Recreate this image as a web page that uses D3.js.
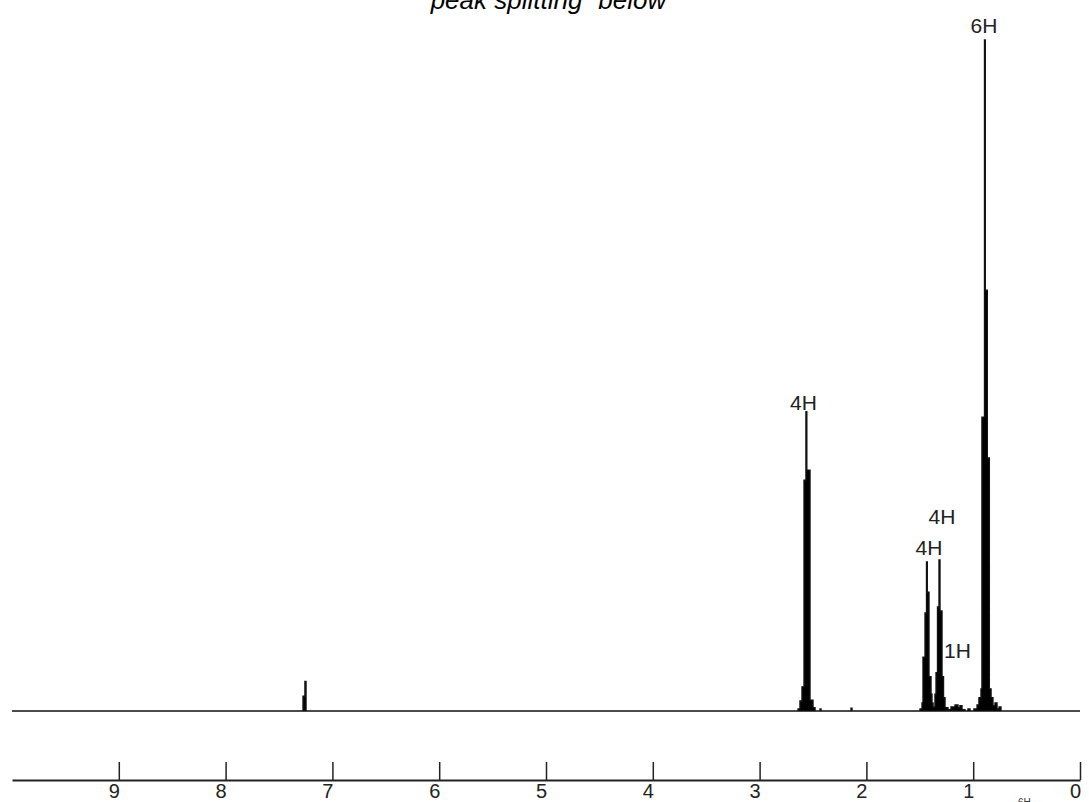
<!DOCTYPE html>
<html>
<head>
<meta charset="utf-8">
<script src="https://cdn.jsdelivr.net/npm/d3@7/dist/d3.min.js"></script>
<style>
  html, body { margin: 0; padding: 0; background: #fff; }
  svg { display: block; }
</style>
</head>
<body>
<svg id="chart" width="1089" height="802"></svg>
<script>
// 1H NMR trace: chemical shift (ppm) and relative intensity, traced left to right
const shiftPpm = [10.000, 7.275, 7.257, 7.247,
  2.640, 2.622, 2.603, 2.584, 2.566, 2.558, 2.528, 2.500, 2.481, 2.434, 2.425, 2.144, 2.135,
  1.498, 1.479, 1.470, 1.451, 1.437, 1.430, 1.414, 1.395, 1.386, 1.376,
  1.358, 1.348, 1.334, 1.320, 1.311, 1.292, 1.278, 1.264,
  1.236, 1.208, 1.170, 1.142, 1.124, 1.105, 1.077, 1.049, 1.030, 0.993, 0.964, 0.946, 0.927,
  0.918, 0.894, 0.887, 0.868, 0.849, 0.833, 0.815, 0.796, 0.777, 0.758, 0.740, 0.000];
const intensity = [0, 2.2, 4.4, 0,
  0.3, 1.5, 3.6, 34.4, 44.6, 35.9, 1.6, 0.5, 0, 0.3, 0, 0.4, 0,
  0.3, 1.2, 8.0, 14.6, 22.2, 17.7, 5.1, 2.5, 1.2, 0.6,
  2.5, 5.7, 15.5, 22.5, 14.9, 5.1, 2.0, 0.5,
  0.2, 0.6, 0.9, 0.5, 0.8, 0.2, 0.0, 0.3, 0.0, 0.3, 0.9, 2.0, 3.3,
  43.8, 100, 62.7, 37.7, 3.3, 2.0, 0.8, 1.2, 0.3, 0.6, 0, 0];

// integration labels
const labelText = ["6H", "4H", "4H", "4H", "1H"];
const labelPpm = [0.899, 2.589, 1.414, 1.292, 1.147];
const labelLevel = [101.0, 44.9, 23.2, 27.9, 7.9];

// axis ticks
const tickPpm = [9, 8, 7, 6, 5, 4, 3, 2, 1, 0];

const svg = d3.select("#chart");

const x = d3.scaleLinear().domain([10, 0]).range([12, 1080]);
const y = d3.scaleLinear().domain([0, 100]).range([711, 40]);

const trace = shiftPpm.map((p, i) => ({ p, v: intensity[i] }));

// title (partly above the top edge)
svg.append("text")
  .attr("x", 422).attr("y", 9)
  .attr("font-family", "Arial, 'Liberation Sans', sans-serif")
  .attr("font-style", "italic")
  .attr("font-size", 26)
  .attr("fill", "#000")
  .text("\u201Cpeak splitting\u201D below");

// spectrum
const area = d3.area()
  .x(d => x(d.p))
  .y0(y(0))
  .y1(d => y(d.v))
  .curve(d3.curveStepAfter);

svg.append("path")
  .datum(trace)
  .attr("d", area)
  .attr("fill", "#000")
  .attr("stroke", "#111")
  .attr("stroke-width", 1.4)
  .attr("stroke-linejoin", "miter");

// integration labels
svg.append("g")
  .selectAll("text")
  .data(labelText)
  .join("text")
  .attr("x", (d, i) => x(labelPpm[i]))
  .attr("y", (d, i) => y(labelLevel[i]))
  .attr("text-anchor", "middle")
  .attr("font-family", "Arial, 'Liberation Sans', sans-serif")
  .attr("font-size", 21)
  .attr("fill", "#222")
  .text(d => d);

// ppm axis
const axis = d3.axisBottom(x)
  .tickValues(tickPpm)
  .tickFormat(d3.format("d"))
  .tickSizeInner(-18)
  .tickSizeOuter(0);

const gAxis = svg.append("g")
  .attr("transform", "translate(0,780)")
  .call(axis);

gAxis.select(".domain").attr("stroke", "#222").attr("stroke-width", 2);
gAxis.selectAll(".tick line").attr("stroke", "#222").attr("stroke-width", 1.5);
gAxis.selectAll(".tick text")
  .attr("x", -5)
  .attr("y", 18)
  .attr("dy", null)
  .attr("font-family", "Arial, 'Liberation Sans', sans-serif")
  .attr("font-size", 20)
  .attr("fill", "#222");

// small caption at the lower edge
svg.append("text")
  .attr("x", 1018).attr("y", 806)
  .attr("font-family", "Arial, 'Liberation Sans', sans-serif")
  .attr("font-size", 10)
  .attr("fill", "#333")
  .text("6H");
</script>
</body>
</html>
